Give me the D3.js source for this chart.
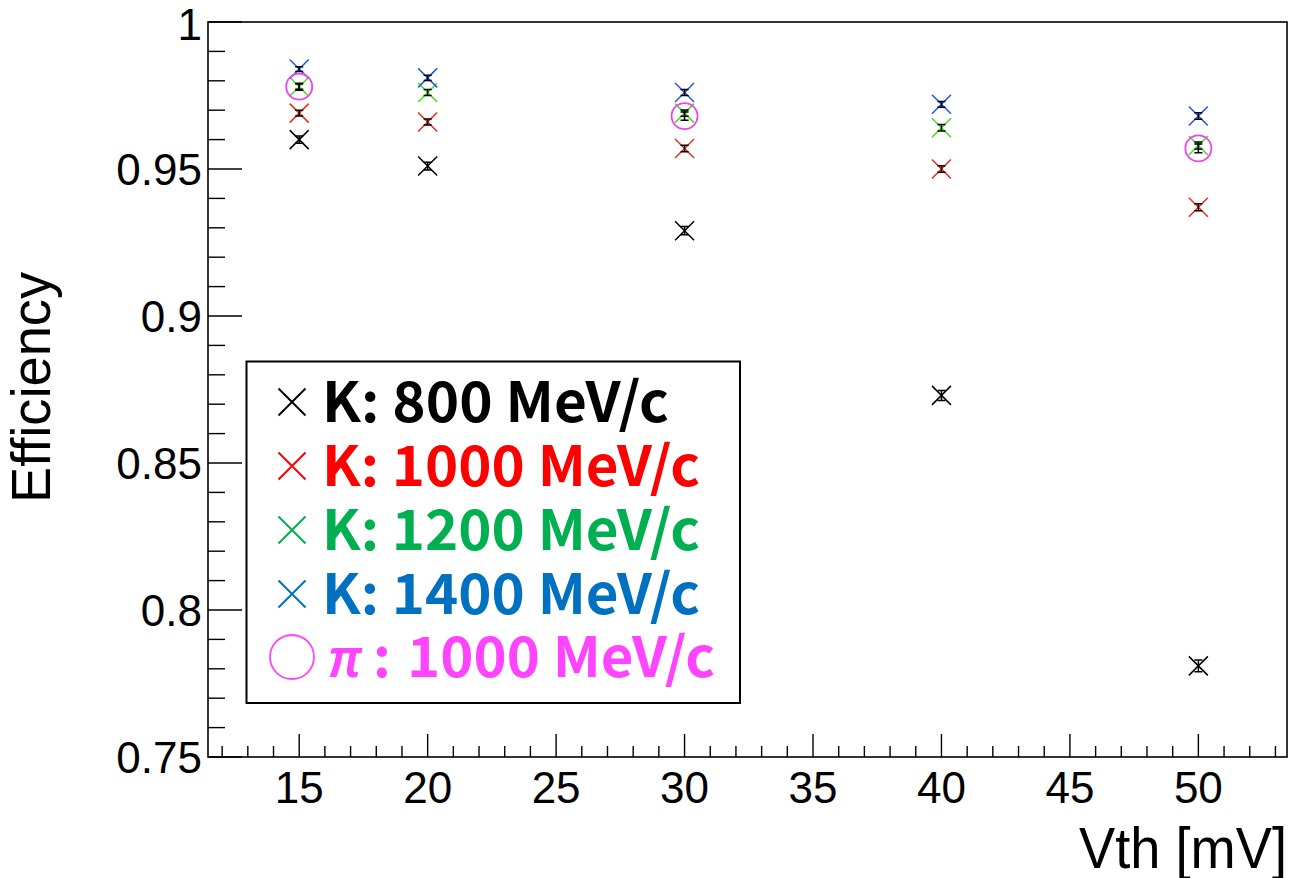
<!DOCTYPE html>
<html>
<head>
<meta charset="utf-8">
<script src="https://cdn.jsdelivr.net/npm/d3@7/dist/d3.min.js"></script>
<style>
html,body{margin:0;padding:0;background:#fff;}
svg{display:block;}
</style>
</head>
<body>
<svg id="chart" width="1291" height="878"></svg>
<script>
// ---- data ----
const vth = [15, 20, 30, 40, 50];
const k800  = [0.960, 0.951, 0.929, 0.873, 0.781];
const k1000 = [0.969, 0.966, 0.957, 0.950, 0.937];
const k1200 = [0.978, 0.976, 0.969, 0.964, 0.958];
const k1400 = [0.984, 0.981, 0.976, 0.972, 0.968];
const piVth = [15, 30, 50];
const pi1000 = [0.978, 0.968, 0.957];
const errK800 = [0.0012, 0.0013, 0.0014, 0.0017, 0.0020];
const errK1000 = [0.0010, 0.0010, 0.0011, 0.0011, 0.0012];
const errK1200 = [0.0009, 0.0010, 0.0011, 0.0011, 0.0012];
const errK1400 = [0.0008, 0.0009, 0.0010, 0.0010, 0.0011];
const errPi = [0.0012, 0.0014, 0.0015];
const xTicks = [15, 20, 25, 30, 35, 40, 45, 50];
const yTicks = [0.75, 0.8, 0.85, 0.9, 0.95, 1];
const yTickLabels = ["0.75", "0.8", "0.85", "0.9", "0.95", "1"];
const legendLabels = ["K: 800 MeV/c", "K: 1000 MeV/c", "K: 1200 MeV/c", "K: 1400 MeV/c", "1000 MeV/c"];
const legendColors = ["#000000", "#ff0000", "#00b050", "#0070c0", "#ff44ff"];
const markerColors = ["#000000", "#f02a1a", "#44dd22", "#2255ee", "#ee44ee"];

const svg = d3.select("#chart");
const L = 208, R = 1287, T = 22, B = 757;
const x = d3.scaleLinear().domain([11.45, 53.45]).range([L, R]);
const y = d3.scaleLinear().domain([0.75, 1]).range([B, T]);

// frame
svg.append("rect").attr("x", L).attr("y", T).attr("width", R - L).attr("height", B - T)
  .attr("fill", "none").attr("stroke", "#000").attr("stroke-width", 1.6);

// x axis ticks
const xMinor = d3.range(12, 54, 1).filter(v => v % 5 !== 0);
const gx = svg.append("g");
gx.selectAll("line.minor").data(xMinor).join("line")
  .attr("x1", d => x(d)).attr("x2", d => x(d)).attr("y1", B).attr("y2", B - 11)
  .attr("stroke", "#000").attr("stroke-width", 1.4);
gx.selectAll("line.major").data(xTicks).join("line")
  .attr("x1", d => x(d)).attr("x2", d => x(d)).attr("y1", B).attr("y2", B - 23)
  .attr("stroke", "#000").attr("stroke-width", 1.4);
gx.selectAll("text").data(xTicks).join("text")
  .attr("x", d => x(d)).attr("y", 803).attr("text-anchor", "middle")
  .attr("font-family", "Liberation Sans, Arial, sans-serif").attr("font-size", 44)
  .text(d => d);

// y axis ticks
const yMinor = d3.range(0, 26).map(i => 0.75 + i * 0.01).filter((v, i) => i % 5 !== 0);
const gy = svg.append("g");
gy.selectAll("line.minor").data(yMinor).join("line")
  .attr("x1", L).attr("x2", L + 17).attr("y1", d => y(d)).attr("y2", d => y(d))
  .attr("stroke", "#000").attr("stroke-width", 1.4);
gy.selectAll("line.major").data(yTicks).join("line")
  .attr("x1", L).attr("x2", L + 34).attr("y1", d => y(d)).attr("y2", d => y(d))
  .attr("stroke", "#000").attr("stroke-width", 1.4);
gy.selectAll("text").data(yTicks).join("text")
  .attr("x", 202).attr("y", d => Math.max(y(d) + 16, 40)).attr("text-anchor", "end")
  .attr("font-family", "Liberation Sans, Arial, sans-serif").attr("font-size", 44)
  .text((d, i) => yTickLabels[i]);

// axis titles
svg.append("text").attr("x", 1287).attr("y", 868).attr("text-anchor", "end")
  .attr("font-family", "Liberation Sans, Arial, sans-serif").attr("font-size", 57)
  .attr("textLength", 208).attr("lengthAdjust", "spacingAndGlyphs")
  .text("Vth [mV]");
svg.append("text").attr("transform", "translate(50,503) rotate(-90)")
  .attr("text-anchor", "start")
  .attr("font-family", "Liberation Sans, Arial, sans-serif").attr("font-size", 56)
  .attr("textLength", 231).attr("lengthAdjust", "spacingAndGlyphs")
  .text("Efficiency");

// data series
const series = [
  {xs: vth, ys: k800, es: errK800, c: markerColors[0], m: "x"},
  {xs: vth, ys: k1000, es: errK1000, c: markerColors[1], m: "x"},
  {xs: vth, ys: k1200, es: errK1200, c: markerColors[2], m: "x"},
  {xs: vth, ys: k1400, es: errK1400, c: markerColors[3], m: "x"},
  {xs: piVth, ys: pi1000, es: errPi, c: markerColors[4], m: "o"}
];
const gd = svg.append("g");
series.forEach(s => {
  const pts = s.xs.map((xv, i) => ({x: x(xv), y: y(s.ys[i]), v: s.ys[i], e: s.es[i]}));
  const g = gd.append("g");
  if (s.m === "x") {
    const h = 9.5;
    g.selectAll("path.mk").data(pts).join("path").attr("class", "mk")
      .attr("d", p => `M${p.x - h},${p.y - h}L${p.x + h},${p.y + h}M${p.x - h},${p.y + h}L${p.x + h},${p.y - h}`)
      .attr("stroke", s.c).attr("stroke-width", 1.5).attr("fill", "none");
  } else {
    g.selectAll("circle").data(pts).join("circle")
      .attr("cx", p => p.x).attr("cy", p => p.y).attr("r", 13)
      .attr("stroke", s.c).attr("stroke-width", 1.8).attr("fill", "none");
  }
  // error bars
  g.selectAll("path.err").data(pts).join("path").attr("class", "err")
    .attr("d", p => {
      const y1 = y(p.v + p.e), y2 = y(p.v - p.e);
      return `M${p.x},${y1}L${p.x},${y2}M${p.x - 4},${y1}L${p.x + 4},${y1}M${p.x - 4},${y2}L${p.x + 4},${y2}`;
    })
    .attr("stroke", "#000").attr("stroke-width", 1.5).attr("fill", "none");
});

// legend
const lg = svg.append("g");
lg.append("rect").attr("x", 246.5).attr("y", 361.5).attr("width", 493.5).attr("height", 341.5)
  .attr("fill", "#fff").attr("stroke", "#000").attr("stroke-width", 2);
const rowY = [422, 486, 550, 614, 677];
const textLen = [347, 378, 378, 378];
for (let i = 0; i < 4; i++) {
  const cx = 292, cy = rowY[i] - 20, h = 13.5;
  lg.append("path")
    .attr("d", `M${cx - h},${cy - h}L${cx + h},${cy + h}M${cx - h},${cy + h}L${cx + h},${cy - h}`)
    .attr("stroke", legendColors[i]).attr("stroke-width", 2).attr("fill", "none");
  lg.append("text").attr("x", 322).attr("y", rowY[i])
    .attr("font-family", "Noto Sans CJK JP, sans-serif").attr("font-weight", "bold")
    .attr("font-size", 55).attr("fill", legendColors[i])
    .attr("textLength", textLen[i]).attr("lengthAdjust", "spacingAndGlyphs")
    .text(legendLabels[i]);
}
lg.append("circle").attr("cx", 292).attr("cy", 657).attr("r", 22)
  .attr("fill", "none").attr("stroke", legendColors[4]).attr("stroke-width", 1.8);
lg.append("text").attr("x", 328).attr("y", 677)
  .attr("font-family", "Liberation Sans, Arial, sans-serif").attr("font-weight", "bold").attr("font-style", "italic")
  .attr("font-size", 56).attr("fill", legendColors[4])
  .attr("textLength", 34).attr("lengthAdjust", "spacingAndGlyphs").text("π");
lg.append("text").attr("x", 373).attr("y", 677)
  .attr("font-family", "Noto Sans CJK JP, sans-serif").attr("font-weight", "bold")
  .attr("font-size", 55).attr("fill", legendColors[4]).text(":");
lg.append("text").attr("x", 407).attr("y", 677)
  .attr("font-family", "Noto Sans CJK JP, sans-serif").attr("font-weight", "bold")
  .attr("font-size", 55).attr("fill", legendColors[4])
  .attr("textLength", 308).attr("lengthAdjust", "spacingAndGlyphs")
  .text(legendLabels[4]);
</script>
</body>
</html>
